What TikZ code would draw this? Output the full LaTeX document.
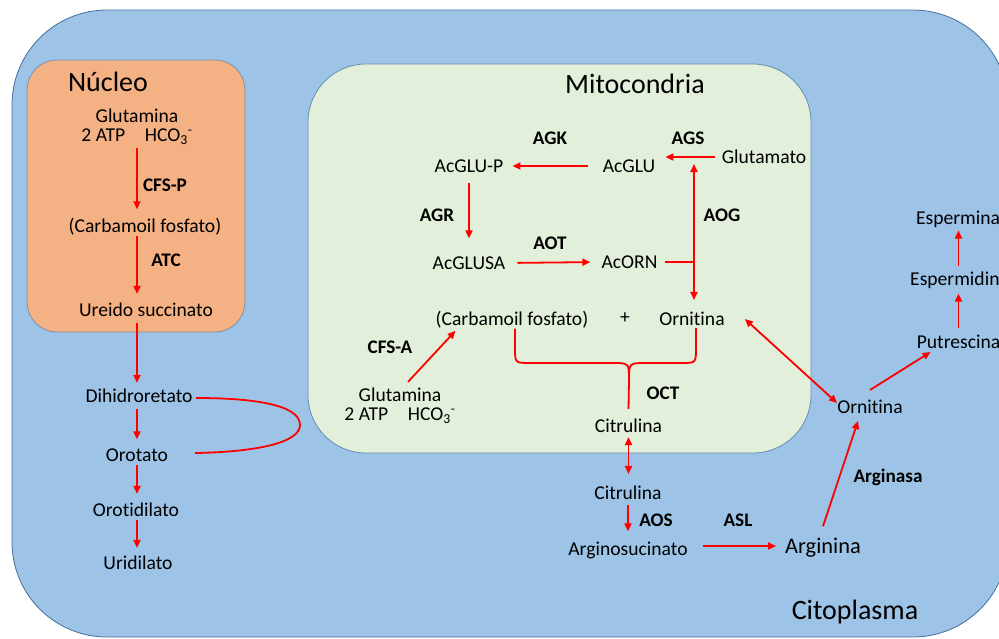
\documentclass[tikz,border=0pt]{standalone}
\usepackage{fontspec}
\setmainfont{Carlito}[Ligatures=NoCommon]
\usetikzlibrary{arrows.meta,calc}
\definecolor{cyto}{HTML}{9DC3E6}
\definecolor{nuc}{HTML}{F4B183}
\definecolor{mito}{HTML}{E2EFDA}
\definecolor{edgeb}{HTML}{41719C}
\definecolor{edgen}{HTML}{7F8FA6}
\begin{document}
\begin{tikzpicture}[x=1pt,y=-1pt,
  txt/.style={font=\fontsize{19.6}{19}\selectfont, inner sep=0pt, align=center},
  lab/.style={font=\fontsize{19.2}{19}\selectfont\bfseries, inner sep=0pt},
  big/.style={font=\fontsize{28}{30}\selectfont, inner sep=0pt},
  arr/.style={draw=red, line width=1.8pt, -{Triangle[length=8pt,width=7pt]}},
  darr/.style={draw=red, line width=1.8pt, {Triangle[length=8pt,width=7pt]}-{Triangle[length=8pt,width=7pt]}},
  ln/.style={draw=red, line width=1.8pt},
  box/.style={line width=0.8pt}
]
\useasboundingbox (0,0) rectangle (999,638);
% compartments
\begin{scope}
\clip (0,0) rectangle (999,638);
\draw[box, fill=cyto, draw=edgeb, rounded corners=95pt] (12,10) rectangle (1008,637);
\end{scope}
\draw[box, fill=nuc, draw=edgen, rounded corners=30pt] (27,60) rectangle (245,332);
\draw[box, fill=mito, draw=edgeb!80, rounded corners=58pt] (308,64) rectangle (811,453);

% titles
\node[big] (tnuc) at (108,82) {Núcleo};
\node[big] (tmito) at (635,84) {Mitocondria};
\node[big] (tcyto) at (855,612) {Citoplasma};

% nucleus pathway
\coordinate (ncol) at (137,0);
\node[txt] (gln1) at (137,127) {Glutamina\\2 ATP\quad HCO\textsubscript{3}\textsuperscript{-}};
\node[txt] (carb1) at (145,227) {(Carbamoil fosfato)};
\node[txt] (ure) at (146,310) {Ureido succinato};
\node[txt] (dih) at (139,396) {Dihidroretato};
\node[txt] (oro) at (137,455) {Orotato};
\node[txt] (orod) at (136,510) {Orotidilato};
\node[txt] (urid) at (138,563) {Uridilato};
\node[lab] (cfsp) at (165,185) {CFS-P};
\node[lab] (atc) at (166,260) {ATC};

\draw[arr, shorten <=3pt, shorten >=9pt] (gln1.south -| ncol) -- (carb1.north -| ncol);
\draw[arr, shorten <=0pt, shorten >=9pt] (carb1.south -| ncol) -- (ure.north -| ncol);
\draw[arr, shorten <=6pt, shorten >=6pt] (ure.south -| ncol) -- (dih.north -| ncol);
\draw[arr, shorten <=6pt, shorten >=9pt] (dih.south -| ncol) -- (oro.north -| ncol);
\draw[arr, shorten <=3pt, shorten >=9pt] (oro.south -| ncol) -- (orod.north -| ncol);
\draw[arr, shorten <=3pt, shorten >=8pt] (orod.south -| ncol) -- (urid.north -| ncol);
\coordinate (loopa) at (196,398);
\coordinate (loopb) at (195,453);
\draw[ln] (loopa) .. controls (255,398) and (300,405) .. (300,425) .. controls (300,443) and (255,452) .. (loopb);

% mitochondria pathway
\node[txt] (acglup) at (469,166) {AcGLU-P};
\node[txt] (acglu) at (629,166) {AcGLU};
\node[txt] (glut) at (764,157) {Glutamato};
\node[txt] (acglusa) at (469,263) {AcGLUSA};
\node[txt] (acorn) at (629.5,262) {AcORN};
\node[txt] (carb2) at (512,320) {(Carbamoil fosfato)};
\node[txt] (plus) at (625,318) {+};
\node[txt] (orn1) at (692,319) {Ornitina};
\node[txt] (gln2) at (400,406) {Glutamina\\2 ATP\quad HCO\textsubscript{3}\textsuperscript{-}};
\node[txt] (cit1) at (628.5,426) {Citrulina};
\node[lab] (agk) at (550,138) {AGK};
\node[lab] (ags) at (688,138) {AGS};
\node[lab] (agr) at (437,215) {AGR};
\node[lab] (aot) at (550,243) {AOT};
\node[lab] (aog) at (722,215) {AOG};
\node[lab] (cfsa) at (390,347) {CFS-A};
\node[lab] (oct) at (663,393) {OCT};

\draw[arr, shorten <=15pt, shorten >=9pt] (acglu.west) -- (acglup.east);
\draw[arr, shorten <=7pt, shorten >=10pt] (glut.west) -- (glut.west -| acglu.east);
\coordinate (aogt) at (694,164);
\draw[darr, shorten >=12pt] (aogt) -- (aogt |- orn1.north);
\draw[ln, shorten <=7pt] (acorn.east) -- (acorn.east -| aogt);
\draw[arr, shorten <=10pt, shorten >=18pt] (acglup.south) -- (acglusa.north);
\draw[arr, shorten <=12pt, shorten >=11pt] (acglusa.east) -- (acorn.west);
\draw[arr] ($(gln2.north)+(8,-6)$) -- ($(carb2.south west)+(20,2)$);
\draw[ln] ($(carb2.south)+(3,0)$) -- (515,348) .. controls (515,363) .. (530,363) -- (612,363) .. controls (629,363) .. (629,380) -- ($(cit1.north)+(0,-10)$);
\draw[ln] ($(orn1.south)+(4,2)$) -- (696,348) .. controls (696,363) .. (681,363) -- (646,363) .. controls (629,363) .. (629,380);

% cytoplasm pathway
\node[txt] (cit2) at (628,493) {Citrulina};
\node[txt] (argsuc) at (628,550) {Arginosucinato};
\node[txt, font=\fontsize{22.4}{23}\selectfont] (argin) at (823,548) {Arginina};
\node[txt] (orn2) at (870,407) {Ornitina};
\node[txt] (putr) at (958.5,342) {Putrescina};
\node[txt, anchor=west] (esd) at (910,280) {Espermidin};
\node[txt] (esm) at (958,219) {Espermina};
\node[lab] (aos) at (656,520) {AOS};
\node[lab] (asl) at (738,520) {ASL};
\node[lab] (arginasa) at (888,477) {Arginasa};

\draw[darr, shorten <=4pt, shorten >=12pt] (cit1.south) -- (cit1.south |- cit2.north);
\draw[arr, shorten <=5pt, shorten >=10pt] (cit2.south) -- (cit2.south |- argsuc.north);
\draw[arr] ($(argsuc.east)+(15,-4)$) -- ($(argsuc.east -| argin.west)+(-9,-4)$);
\draw[arr] ($(argin.north)+(0,-12)$) -- ($(orn2.south)+(-12,7)$);
\draw[darr] ($(orn1.east)+(20,0)$) -- ($(orn2.west)+(0,-4)$);
\draw[arr] ($(orn2.north)+(0,-10)$) -- ($(putr.south west)+(14,3)$);
\draw[arr, shorten <=7pt, shorten >=5pt] (putr.north) -- (putr.north |- esd.south);
\draw[arr, shorten <=5pt, shorten >=3pt] (putr.north |- esd.north) -- (putr.north |- esm.south);
\end{tikzpicture}
\end{document}
